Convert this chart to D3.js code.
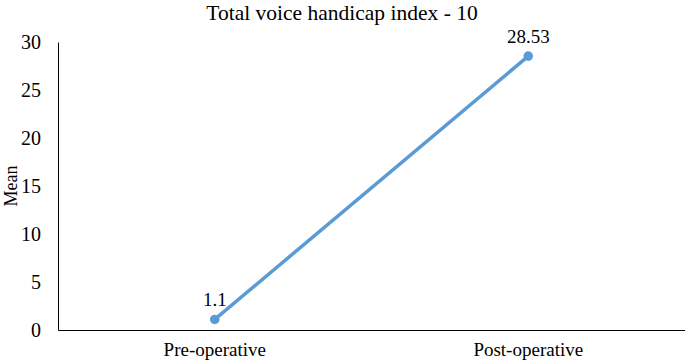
<!DOCTYPE html>
<html><head><meta charset="utf-8">
<script src="https://cdn.jsdelivr.net/npm/d3@7"></script>
</head><body style="margin:0;background:#fff">
<svg id="c" width="685" height="363" font-family="Liberation Serif" style="display:block"></svg>
<script>
const categories = ["Pre-operative", "Post-operative"];
const values = [1.1, 28.53];
const valueLabels = ["1.1", "28.53"];
const yTicks = [0, 5, 10, 15, 20, 25, 30];
const title = "Total voice handicap index - 10";
const yTitle = "Mean";

const FONT = "Liberation Serif";
const svg = d3.select("#c");
const L = 58, R = 685, T = 42, B = 330;
const x = d3.scaleBand().domain(categories).range([L, R]);
const y = d3.scaleLinear().domain([0, 30]).range([B, T]);
const cx = d => x(d) + x.bandwidth() / 2;

svg.append("text").attr("x", 342).attr("y", 19.5).attr("text-anchor", "middle")
  .attr("font-family", FONT).attr("font-size", 21.5).attr("fill", "#000").text(title);

const ya = svg.append("g").attr("transform", `translate(${L},0)`)
  .call(d3.axisLeft(y).tickValues(yTicks).tickSize(0).tickPadding(17))
  .attr("font-family", FONT).attr("font-size", 20);
ya.select(".domain").attr("stroke", "#000").attr("stroke-width", 1);
ya.selectAll("text").attr("fill", "#000");

const xa = svg.append("g").attr("transform", `translate(0,${B})`)
  .call(d3.axisBottom(x).tickSize(0).tickPadding(13))
  .attr("font-family", FONT).attr("font-size", 19);
xa.select(".domain").attr("stroke", "#000").attr("stroke-width", 1);
xa.selectAll("text").attr("fill", "#000");

svg.append("text").attr("transform", `translate(17,${(T+B)/2}) rotate(-90)`)
  .attr("text-anchor", "middle").attr("font-family", FONT).attr("font-size", 18).text(yTitle);

const pts = categories.map((c, i) => [cx(c), y(values[i])]);
svg.append("path").attr("d", d3.line()(pts)).attr("fill", "none")
  .attr("stroke", "#5B9BD5").attr("stroke-width", 3.5).attr("stroke-linecap", "round");
svg.selectAll("circle.pt").data(pts).join("circle").attr("class", "pt")
  .attr("cx", d => d[0]).attr("cy", d => d[1]).attr("r", 4.8).attr("fill", "#5B9BD5");
svg.selectAll("text.lbl").data(pts).join("text").attr("class", "lbl")
  .attr("x", d => d[0]).attr("y", d => d[1] - 13).attr("text-anchor", "middle")
  .attr("font-family", FONT).attr("font-size", 19).text((d, i) => valueLabels[i]);
</script>
</body></html>
